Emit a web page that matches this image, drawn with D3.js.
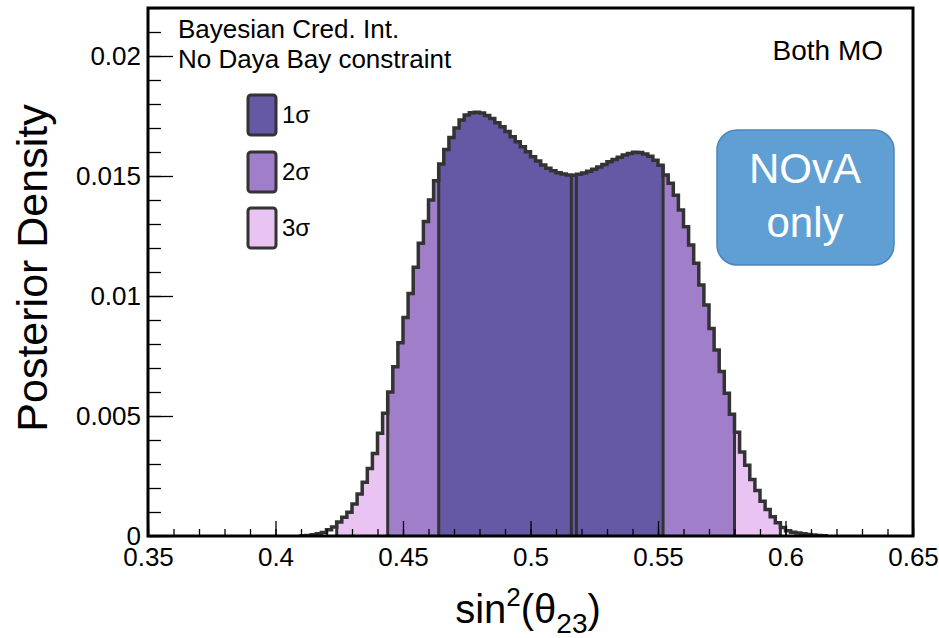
<!DOCTYPE html>
<html><head><meta charset="utf-8">
<script src="https://cdn.jsdelivr.net/npm/d3@7"></script>
<style>
body{margin:0;background:#fff}
svg{display:block}
text{font-family:"Liberation Sans",Arial,Helvetica,sans-serif}
</style>
</head><body>
<svg id="c" width="939" height="638"></svg>
<script>
// ---- data ----
const binStart = 0.410;
const binWidth = 0.002;
const density = [
0.00001,0.00002,0.00005,0.00009,0.00015,0.00026,0.00038,0.00058,0.00078,0.00099,
0.00133,0.00175,0.00224,0.00281,0.00344,0.00428,0.00511,0.00600,0.00705,0.00805,
0.00910,0.01010,0.01120,0.01220,0.01310,0.01400,0.01480,0.01550,0.01610,0.01660,
0.01700,0.01733,0.01754,0.01764,0.01766,0.01762,0.01752,0.01740,0.01722,0.01705,
0.01685,0.01664,0.01643,0.01622,0.01601,0.01580,0.01562,0.01546,0.01532,0.01522,
0.01514,0.01508,0.01504,0.01503,0.01507,0.01513,0.01520,0.01528,0.01538,0.01548,
0.01559,0.01569,0.01578,0.01587,0.01594,0.01599,0.01598,0.01592,0.01582,0.01566,
0.01545,0.01504,0.01470,0.01420,0.01358,0.01289,0.01213,0.01136,0.01046,0.00963,
0.00865,0.00775,0.00685,0.00595,0.00507,0.00432,0.00350,0.00295,0.00235,0.00190,
0.00145,0.00110,0.00080,0.00055,0.00035,0.00022,0.00016,0.00012,0.00009,0.00006,
0.00004,0.00002,0.00001];
const regionEdges = [0.424, 0.444, 0.464, 0.516, 0.518, 0.552, 0.580, 0.598];
const regionLevel = [3, 2, 1, 1, 1, 2, 3];
const legendLabels = ["1σ", "2σ", "3σ"];
const levelColors = {1: "#6558a4", 2: "#a07ec9", 3: "#e9c4f2"};
const xTicks = [0.35, 0.40, 0.45, 0.50, 0.55, 0.60, 0.65];
const xTickLabels = ["0.35", "0.4", "0.45", "0.5", "0.55", "0.6", "0.65"];
const yTicks = [0, 0.005, 0.01, 0.015, 0.02];
const yTickLabels = ["0", "0.005", "0.01", "0.015", "0.02"];
const xDomain = [0.35, 0.65];
const yDomain = [0, 0.022];

// ---- layout ----
const L = 148, R = 913, T = 8, B = 536;
const svg = d3.select("#c");
const x = d3.scaleLinear().domain(xDomain).range([L, R]);
const y = d3.scaleLinear().domain(yDomain).range([B, T]);
const ink = "#333333";

const bins = density.map((v, i) => {
  const x0 = +(binStart + i * binWidth).toFixed(4);
  return {x0, x1: +(x0 + binWidth).toFixed(4), v};
});

svg.append("clipPath").attr("id", "clip").append("rect")
  .attr("x", L).attr("y", T).attr("width", R - L).attr("height", B - T);
const g = svg.append("g").attr("clip-path", "url(#clip)");

// region fills
for (let r = 0; r < regionLevel.length; r++) {
  const a = regionEdges[r], b = regionEdges[r + 1];
  const inside = bins.filter(d => d.x0 >= a - 1e-9 && d.x1 <= b + 1e-9);
  let p = `M${x(a)},${y(0)}`;
  inside.forEach(d => { p += `L${x(d.x0)},${y(d.v)}L${x(d.x1)},${y(d.v)}`; });
  p += `L${x(b)},${y(0)}Z`;
  g.append("path").attr("d", p).attr("fill", levelColors[regionLevel[r]]).attr("stroke", "none");
}
// region boundary lines
regionEdges.forEach(e => {
  const left = bins.find(d => Math.abs(d.x1 - e) < 1e-9);
  const right = bins.find(d => Math.abs(d.x0 - e) < 1e-9);
  const h = Math.max(left ? left.v : 0, right ? right.v : 0);
  g.append("line").attr("x1", x(e)).attr("x2", x(e)).attr("y1", y(0)).attr("y2", y(h))
    .attr("stroke", ink).attr("stroke-width", 3);
});
// outline
let op = `M${x(bins[0].x0)},${y(0)}`;
bins.forEach(d => { op += `L${x(d.x0)},${y(d.v)}L${x(d.x1)},${y(d.v)}`; });
op += `L${x(bins[bins.length - 1].x1)},${y(0)}`;
g.append("path").attr("d", op).attr("fill", "none").attr("stroke", ink)
  .attr("stroke-width", 3.5).attr("stroke-linejoin", "miter");

// axes
const xMinor = d3.range(35, 66).map(v => v / 100);
const yMinor = d3.range(0, 23).map(v => v / 1000);
svg.append("g").attr("transform", `translate(0,${B})`)
  .call(d3.axisBottom(x).tickValues(xMinor).tickSize(-7).tickFormat(""))
  .call(s => s.select(".domain").remove())
  .selectAll("line").attr("stroke", "#000").attr("stroke-width", 1.3);
svg.append("g").attr("transform", `translate(0,${B})`)
  .call(d3.axisBottom(x).tickValues(xTicks).tickSize(-15).tickPadding(12)
    .tickFormat((d, i) => xTickLabels[i]))
  .call(s => s.select(".domain").remove())
  .call(s => s.selectAll("line").attr("stroke", "#000").attr("stroke-width", 1.3))
  .call(s => s.selectAll("text").attr("font-size", 26).attr("fill", "#000")
    .attr("font-family", '"Liberation Sans",Arial,sans-serif'));
svg.append("g").attr("transform", `translate(${L},0)`)
  .call(d3.axisLeft(y).tickValues(yMinor).tickSize(-13).tickFormat(""))
  .call(s => s.select(".domain").remove())
  .selectAll("line").attr("stroke", "#000").attr("stroke-width", 1.3);
svg.append("g").attr("transform", `translate(${L},0)`)
  .call(d3.axisLeft(y).tickValues(yTicks).tickSize(-25).tickPadding(7)
    .tickFormat((d, i) => yTickLabels[i]))
  .call(s => s.select(".domain").remove())
  .call(s => s.selectAll("line").attr("stroke", "#000").attr("stroke-width", 1.3))
  .call(s => s.selectAll("text").attr("font-size", 26).attr("fill", "#000")
    .attr("font-family", '"Liberation Sans",Arial,sans-serif'));

// frame
svg.append("rect").attr("x", L).attr("y", T).attr("width", R - L).attr("height", B - T)
  .attr("fill", "none").attr("stroke", "#000").attr("stroke-width", 3);

// axis titles
svg.append("text").attr("transform", `translate(47,268) rotate(-90)`)
  .attr("text-anchor", "middle").attr("font-size", 43).attr("fill", "#000")
  .text("Posterior Density");
const xt = svg.append("text").attr("x", 528).attr("y", 623).attr("text-anchor", "middle")
  .attr("font-size", 40).attr("fill", "#000");
xt.append("tspan").text("sin");
xt.append("tspan").attr("font-size", 26).attr("dy", -17).text("2");
xt.append("tspan").attr("dy", 17).text("(θ");
xt.append("tspan").attr("font-size", 28).attr("dy", 10).text("23");
xt.append("tspan").attr("dy", -10).text(")");

// labels
svg.append("text").attr("x", 178).attr("y", 38).attr("font-size", 26).attr("fill", "#000")
  .text("Bayesian Cred. Int.");
svg.append("text").attr("x", 178).attr("y", 68).attr("font-size", 26).attr("fill", "#000")
  .text("No Daya Bay constraint");
svg.append("text").attr("x", 883).attr("y", 60).attr("text-anchor", "end")
  .attr("font-size", 28).attr("fill", "#000").text("Both MO");

// legend
const legY = [95, 152, 208];
legendLabels.forEach((lab, i) => {
  svg.append("rect").attr("x", 248).attr("y", legY[i]).attr("width", 28).attr("height", 40)
    .attr("rx", 3).attr("fill", levelColors[i + 1]).attr("stroke", ink).attr("stroke-width", 3);
  svg.append("text").attr("x", 282).attr("y", legY[i] + 20).attr("dy", "0.35em")
    .attr("font-size", 24).attr("fill", "#000").text(lab);
});

// NOvA only box
svg.append("rect").attr("x", 717).attr("y", 130).attr("width", 177).attr("height", 135)
  .attr("rx", 20).attr("fill", "#5f9fd4").attr("stroke", "#4a86bd").attr("stroke-width", 1.5);
svg.append("text").attr("x", 805).attr("y", 183).attr("text-anchor", "middle")
  .attr("font-size", 42).attr("fill", "#fff").text("NOvA");
svg.append("text").attr("x", 805).attr("y", 237).attr("text-anchor", "middle")
  .attr("font-size", 42).attr("fill", "#fff").text("only");
</script>
</body></html>
